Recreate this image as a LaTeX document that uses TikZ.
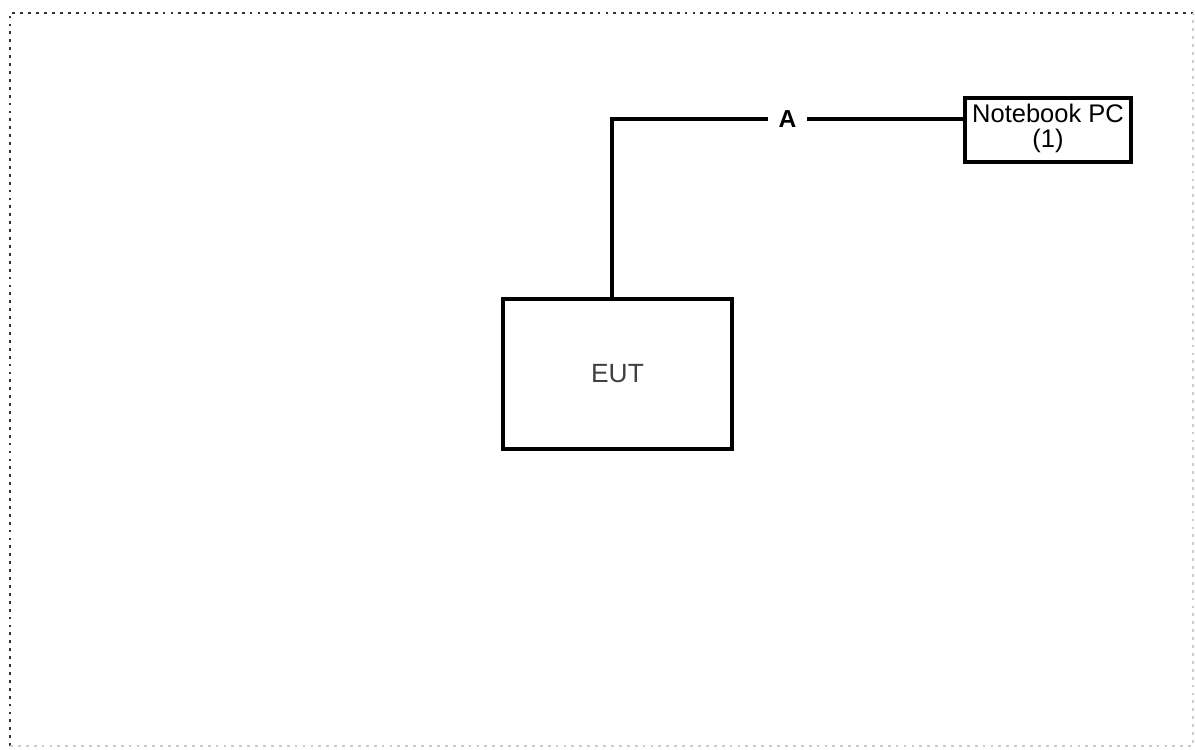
\documentclass[tikz,border=0pt]{standalone}
\usepackage{fontspec}
\setmainfont{Liberation Sans}
\usepackage{tikz}
\usetikzlibrary{positioning}

\tikzset{
  unit/.style={draw,line width=2pt,rectangle,inner sep=0pt},
  cable/.style={line width=2pt},
  frame/.style={line width=1.6pt,dash pattern=on 1.6pt off 2.9pt}
}

\begin{document}
\begin{tikzpicture}
 \useasboundingbox (0,0) rectangle (23.9,14.98);
 % outer frame
 \draw[frame,black!80] (0.2,0.06) -- (0.2,14.72) -- (23.86,14.72);
 \draw[frame,black!20] (0.2,0.06) -- (23.86,0.06) -- (23.86,14.72);

  \draw (12.35,7.5) node[unit,minimum width=4.58cm,minimum height=3cm] (eut) {\fontsize{15}{17}\selectfont\textcolor{black!75}{EUT}};
  \draw (20.96,12.38) node[unit,minimum width=3.32cm,minimum height=1.28cm] (nb)
     {\parbox[c][1.2cm][t]{3.2cm}{\centering\fontsize{14.5}{13.8}\selectfont\vspace*{2.5pt}Notebook PC\\(1)}};
  \coordinate (bend) at (12.24,12.6);

     \draw[cable] (eut.north -| bend) -- (bend) -- node[fill=white,inner xsep=6pt,font=\bfseries\fontsize{14}{16}\selectfont] (a) {A} (bend -| nb.west);
\end{tikzpicture}
\end{document}
